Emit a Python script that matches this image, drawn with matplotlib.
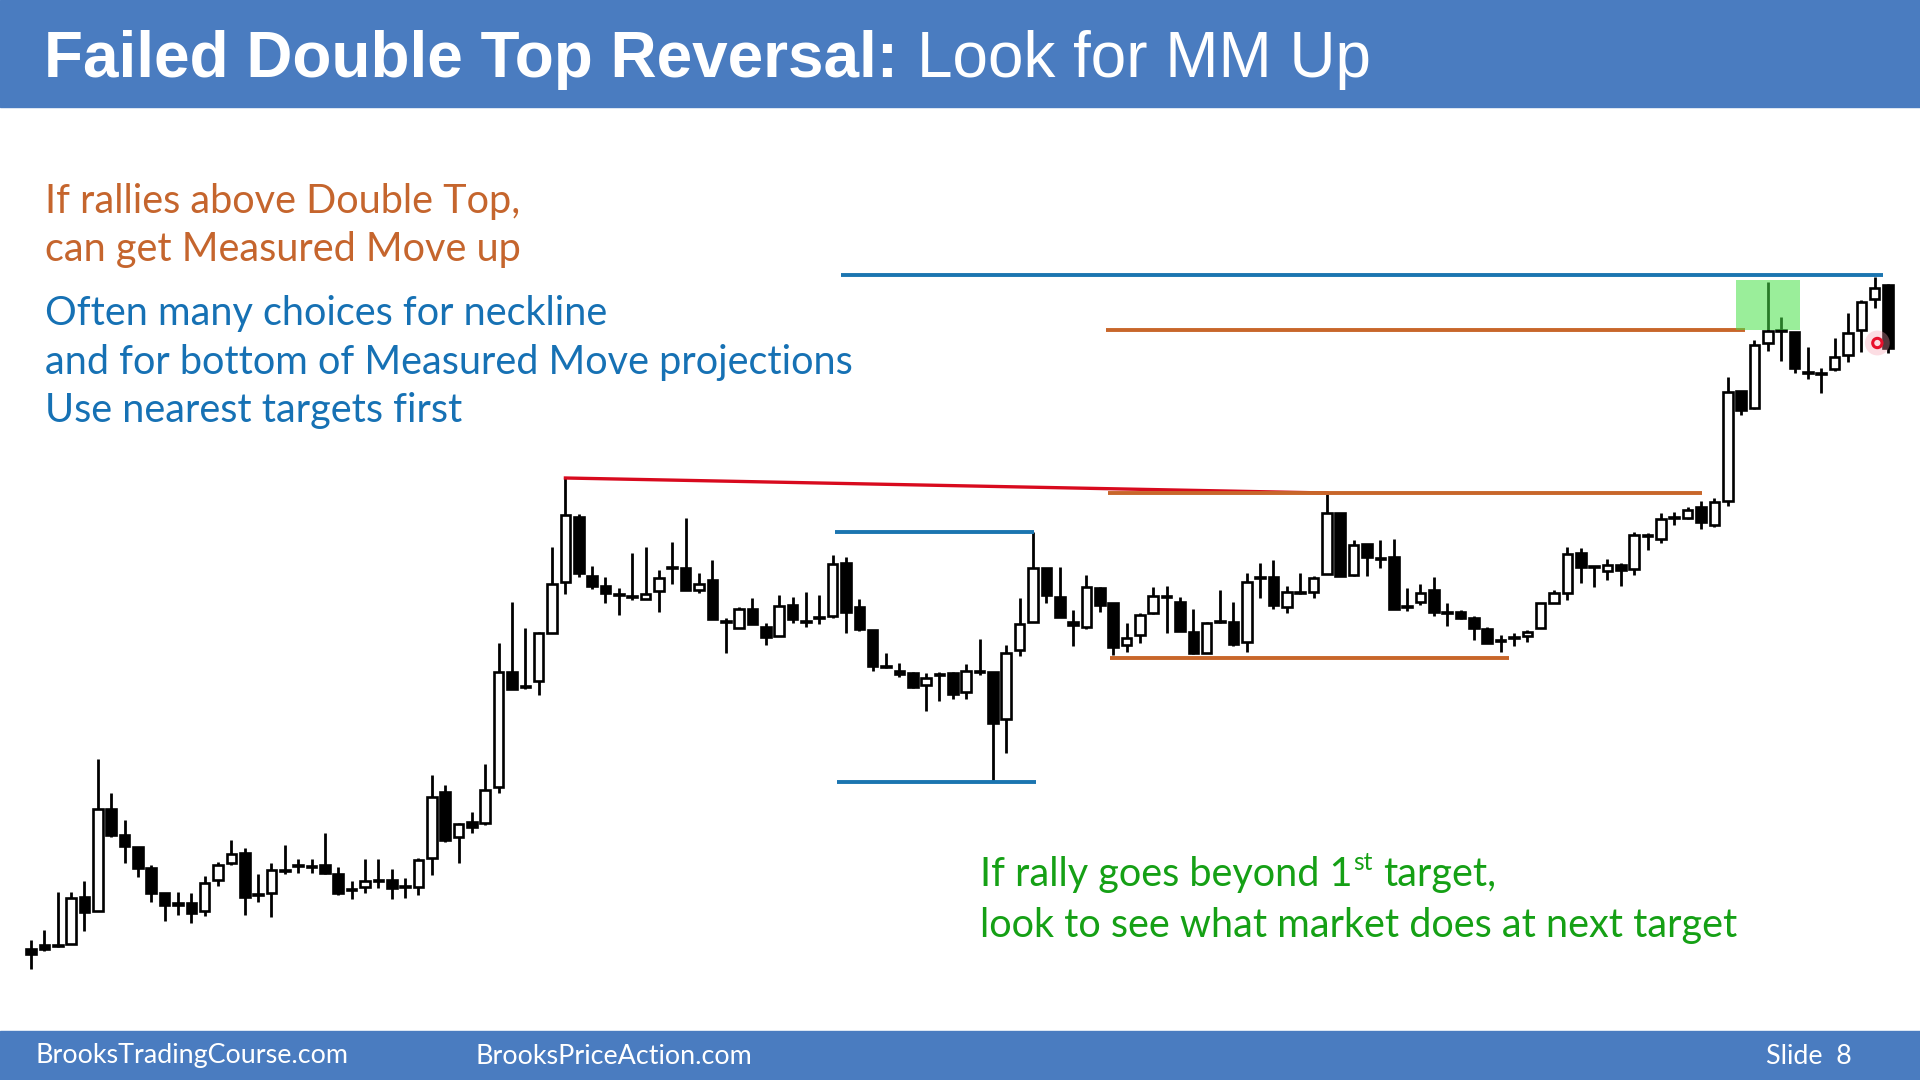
import matplotlib
matplotlib.use("Agg")
import matplotlib.pyplot as plt
from matplotlib.patches import Rectangle

# candle prices (arbitrary units, bottom of chart = low)
opens = [131, 135, 134, 136, 183, 169, 271, 245, 233, 212,
         187, 177, 177, 169, 200, 217, 227, 186, 187, 209,
         214, 213, 215, 206, 190, 193, 199, 200, 193, 193,
         222, 288, 243, 258, 257, 293, 408, 393, 399, 447,
         498, 563, 504, 494, 485, 483, 481, 489, 512, 512,
         490, 500, 458, 452, 471, 453, 444, 475, 458, 462,
         464, 517, 473, 450, 413, 409, 407, 395, 405, 407,
         388, 408, 408, 361, 430, 458, 512, 483, 458, 453,
         492, 477, 435, 445, 467, 483, 478, 448, 427, 458,
         458, 438, 502, 503, 473, 487, 488, 506, 567, 505,
         536, 521, 523, 473, 478, 490, 467, 468, 462, 451,
         439, 442, 444, 452, 477, 487, 527, 513, 509, 515,
         511, 544, 541, 562, 562, 573, 555, 579, 689, 672,
         737, 749, 748, 707, 706, 711, 725, 750, 781, 795]
highs = [140, 150, 188, 188, 199, 321, 287, 260, 233, 215,
         187, 188, 187, 204, 218, 240, 232, 206, 217, 235,
         221, 221, 247, 213, 199, 221, 221, 211, 202, 222,
         305, 295, 257, 268, 316, 437, 478, 452, 448, 533,
         602, 566, 514, 503, 492, 527, 533, 510, 538, 562,
         507, 520, 462, 473, 482, 457, 485, 483, 488, 485,
         525, 523, 481, 450, 427, 417, 408, 407, 408, 408,
         416, 441, 408, 435, 482, 548, 512, 513, 470, 505,
         493, 477, 457, 467, 493, 494, 483, 471, 458, 490,
         478, 507, 517, 520, 494, 507, 504, 586, 567, 540,
         536, 540, 541, 492, 496, 503, 477, 470, 464, 453,
         445, 447, 450, 477, 490, 533, 532, 513, 521, 517,
         548, 547, 567, 568, 573, 579, 582, 703, 689, 740,
         798, 763, 748, 733, 712, 742, 767, 780, 803, 796]
lows = [111, 129, 133, 136, 149, 169, 243, 217, 203, 178,
        159, 165, 157, 164, 194, 215, 165, 178, 163, 206,
        207, 207, 206, 185, 181, 187, 192, 181, 182, 185,
        205, 238, 217, 247, 255, 287, 391, 391, 385, 447,
        486, 503, 491, 477, 465, 480, 481, 468, 496, 490,
        487, 461, 427, 452, 456, 435, 444, 457, 453, 456,
        462, 447, 449, 409, 412, 403, 392, 369, 379, 381,
        381, 405, 298, 327, 424, 458, 477, 463, 434, 451,
        468, 425, 428, 437, 466, 447, 449, 426, 427, 457,
        434, 428, 482, 471, 467, 486, 482, 506, 504, 504,
        504, 512, 471, 469, 475, 464, 454, 461, 440, 437,
        428, 434, 438, 452, 477, 480, 497, 493, 500, 494,
        505, 530, 537, 555, 561, 551, 553, 574, 665, 671,
        729, 719, 707, 701, 687, 709, 718, 728, 772, 727]
closes = [126, 131, 135, 182, 168, 271, 245, 234, 212, 187,
          175, 175, 167, 197, 215, 226, 183, 185, 210, 209,
          214, 214, 207, 187, 190, 199, 199, 192, 193, 220,
          283, 240, 256, 253, 290, 408, 391, 393, 447, 496,
          565, 507, 494, 487, 485, 483, 486, 502, 512, 490,
          496, 461, 458, 471, 456, 443, 474, 461, 458, 462,
          516, 468, 451, 414, 413, 406, 393, 402, 405, 386,
          409, 408, 357, 427, 456, 512, 485, 463, 455, 493,
          475, 433, 442, 465, 484, 483, 449, 427, 457, 458,
          436, 498, 502, 475, 488, 487, 502, 567, 504, 535,
          523, 521, 471, 473, 487, 468, 467, 462, 452, 437,
          439, 442, 448, 477, 487, 526, 513, 513, 515, 510,
          545, 544, 561, 562, 570, 558, 578, 688, 670, 735,
          749, 749, 712, 707, 706, 723, 747, 778, 792, 732]

# drawn levels: (price, first bar, last bar, colour)
level_prices = [805, 750, 587, 422, 548, 298]
level_start = [60.6, 80.5, 80.6, 80.8, 60.2, 60.3]
level_end = [138.6, 128.3, 125.1, 110.6, 75.1, 75.2]
level_colors = ["#1B75B0", "#C8662A", "#C8662A", "#C8662A", "#1B75B0", "#1B75B0"]

# double top trend line (bar, price)
top_line_x = [40, 97]
top_line_y = [602, 587]

# target zone box
zone_x = [127.6, 132.4]
zone_y = [750, 800]

pointer_x = [138.2]
pointer_y = [737]

orange_txt = "#C5652D"
blue_txt = "#1671B4"
green_txt = "#15A015"
bar_blue = "#4A7CC0"

W, H = 1920, 1080
fig = plt.figure(figsize=(19.2, 10.8), dpi=100)
fig.patch.set_facecolor("white")

ax = fig.add_axes([0, 0, 1, 1])
ax.set_xlim(-31 / 13.36, (W - 31) / 13.36)
ax.set_ylim(0, H)
ax.axis("off")

n = len(opens)
idx = list(range(n))
ax.vlines(idx, lows, highs, color="black", linewidth=2.0, zorder=2)
for i in idx:
    o, c = opens[i], closes[i]
    bottom = min(o, c)
    height = max(abs(c - o), 1.5)
    face = "white" if c - o >= 2 else "black"
    ax.bar(i, height, bottom=bottom, width=0.72, color=face,
           edgecolor="black", linewidth=1.9, zorder=3)

ax.plot(top_line_x, top_line_y, color="#D80A1E", linewidth=2.4, zorder=4)
for p, a, b, col in zip(level_prices, level_start, level_end, level_colors):
    ax.hlines(p, a, b, colors=col, linewidth=2.8, zorder=4)

ax.add_patch(Rectangle((zone_x[0], zone_y[0]), zone_x[1] - zone_x[0],
                       zone_y[1] - zone_y[0], facecolor="#48E048",
                       alpha=0.55, edgecolor="none", zorder=5))

ax.scatter(pointer_x, pointer_y, s=320, color="#F7A0B0", alpha=0.35,
           edgecolors="none", zorder=6)
ax.scatter(pointer_x, pointer_y, s=45, facecolors="none",
           edgecolors="#E8102C", linewidths=2.2, zorder=7)

# header and footer bands
fig.patches.append(Rectangle((0, 1 - 107 / H), 1, 107 / H,
                             transform=fig.transFigure, color=bar_blue, zorder=10))
fig.patches.append(Rectangle((0, 0), 1, 49 / H,
                             transform=fig.transFigure, color=bar_blue, zorder=10))

r = fig.canvas.get_renderer()

t = fig.text(44 / W, 1 - 77 / H, "Failed Double Top Reversal:", color="white",
             fontsize=46, fontweight="bold", family="Liberation Sans",
             va="baseline", zorder=11)
bb = t.get_window_extent(renderer=r)
fig.text((bb.x1 + 19) / W, 1 - 77 / H, "Look for MM Up", color="white",
         fontsize=46, family="Liberation Sans", va="baseline", zorder=11)

body_font = "Lato"
fs = 28.5
left_lines = [
    ("If rallies above Double Top,", orange_txt, 213),
    ("can get Measured Move up", orange_txt, 261),
    ("Often many choices for neckline", blue_txt, 325),
    ("and for bottom of Measured Move projections", blue_txt, 374),
    ("Use nearest targets first", blue_txt, 422),
]
for txt, col, yb in left_lines:
    fig.text(45 / W, 1 - yb / H, txt, color=col, fontsize=fs,
             family=body_font, va="baseline", zorder=11)

# green note with superscript
gx, gy1, gy2 = 980, 886, 937
t1 = fig.text(gx / W, 1 - gy1 / H, "If rally goes beyond 1", color=green_txt,
              fontsize=fs, family=body_font, va="baseline", zorder=11)
b1 = t1.get_window_extent(renderer=r)
t2 = fig.text((b1.x1 + 1) / W, 1 - (gy1 - 16) / H, "st", color=green_txt,
              fontsize=fs * 0.62, family=body_font, va="baseline", zorder=11)
b2 = t2.get_window_extent(renderer=r)
fig.text((b2.x1 + 10) / W, 1 - gy1 / H, "target,", color=green_txt,
         fontsize=fs, family=body_font, va="baseline", zorder=11)
fig.text(gx / W, 1 - gy2 / H, "look to see what market does at next target",
         color=green_txt, fontsize=fs, family=body_font, va="baseline", zorder=11)

# footer
for txt, xp in [("BrooksTradingCourse.com", 35), ("BrooksPriceAction.com", 475),
                ("Slide  8", 1766)]:
    fig.text(xp / W, 1 - 1056 / H, txt, color="white", fontsize=19.4,
             family=body_font, va="center", zorder=11)

fig.savefig("out.png", dpi=100)
